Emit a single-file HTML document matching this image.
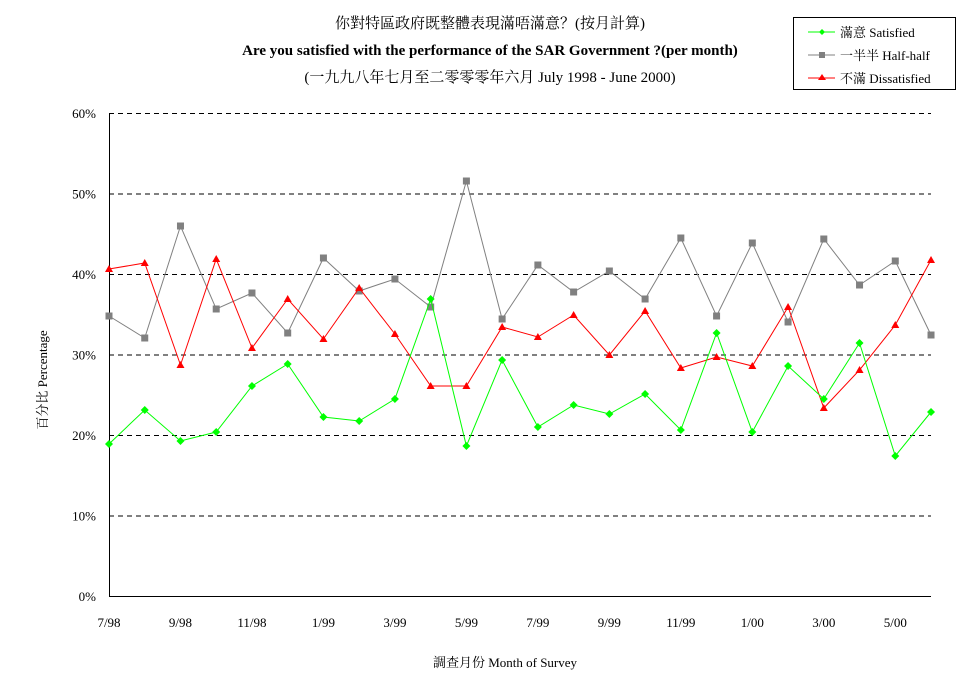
<!DOCTYPE html>
<html><head><meta charset="utf-8"><style>
body{margin:0;background:#fff;}
svg text{font-family:"Liberation Serif","Noto Serif CJK SC","Noto Sans CJK TC",serif;}
</style></head><body>
<svg id="s" width="977" height="681" xmlns="http://www.w3.org/2000/svg">
<rect width="977" height="681" fill="#fff"/>
<text x="490" y="28" font-size="15" text-anchor="middle">你對特區政府既整體表現滿唔滿意？(按月計算)</text>
<text x="490" y="55" font-size="15" font-weight="bold" text-anchor="middle">Are you satisfied with the performance of the SAR Government ?(per month)</text>
<text x="490" y="82" font-size="15" text-anchor="middle">(一九九八年七月至二零零零年六月 July 1998 - June 2000)</text>
<rect x="793.5" y="17.5" width="162" height="72" fill="#fff" stroke="#000"/>
<line x1="808" y1="32" x2="835" y2="32" stroke="#00ff00"/><path d="M822 29 L825 32 L822 35 L819 32Z" fill="#00ff00"/>
<text x="840" y="37" font-size="13">滿意 Satisfied</text>
<line x1="808" y1="55" x2="835" y2="55" stroke="#808080"/><rect x="819" y="52" width="6" height="6" fill="#808080"/>
<text x="840" y="60" font-size="13">一半半 Half-half</text>
<line x1="808" y1="78" x2="835" y2="78" stroke="#ff0000"/><path d="M822 74 L826 80 L818 80Z" fill="#ff0000"/>
<text x="840" y="83" font-size="13">不滿 Dissatisfied</text>
<g id="grid"></g>
<line x1="109.5" y1="113" x2="109.5" y2="596" stroke="#000"/>
<line x1="109" y1="596.5" x2="931" y2="596.5" stroke="#000"/>
<text transform="translate(47,380) rotate(-90)" font-size="13" text-anchor="middle">百分比 Percentage</text>
<text x="505" y="667" font-size="13" text-anchor="middle">調查月份 Month of Survey</text>
<g id="d"></g>
</svg>
<script>
var g=document.getElementById('grid'),d=document.getElementById('d'),h='';
for(var i=0;i<=6;i++){var y=596-i*80.5;
 if(i>0)h+='<line x1="109" y1="'+(y+.5)+'" x2="931" y2="'+(y+.5)+'" stroke="#000" stroke-dasharray="5,4"/>';
 h+='<text x="96" y="'+(y+5)+'" font-size="13" text-anchor="end">'+(i*10)+'%</text>';}
var labs=['7/98','9/98','11/98','1/99','3/99','5/99','7/99','9/99','11/99','1/00','3/00','5/00'];
for(var i=0;i<12;i++)h+='<text x="'+(109+i*2*35.74)+'" y="627" font-size="13" text-anchor="middle">'+labs[i]+'</text>';
g.innerHTML=h;
var S=[444,410,441,432,386,364,417,421,399,299,446,360,427,405,414,394,430,333,432,366,399,343,456,412];
var H=[316,338,226,309,293,333,258,291,279,307,181,319,265,292,271,299,238,316,243,322,239,285,261,335];
var D=[269,263,365,259,348,299,339,288,334,386,386,327,337,315,355,311,368,357,366,307,408,370,325,260];
function ser(a,c,m){var p=a.map(function(y,i){return (109+i*35.74).toFixed(1)+','+y}).join(' ');
 var s='<polyline points="'+p+'" fill="none" stroke="'+c+'" stroke-width="1"/>';
 a.forEach(function(y,i){var x=109+i*35.74;
  if(m==0)s+='<path d="M'+x+' '+(y-4)+' L'+(x+4)+' '+y+' L'+x+' '+(y+4)+' L'+(x-4)+' '+y+'Z" fill="'+c+'"/>';
  else if(m==1)s+='<rect x="'+(x-3.5)+'" y="'+(y-3.5)+'" width="7" height="7" fill="'+c+'"/>';
  else s+='<path d="M'+x+' '+(y-4)+' L'+(x+4)+' '+(y+3)+' L'+(x-4)+' '+(y+3)+'Z" fill="'+c+'"/>';});
 return s;}
d.innerHTML=ser(H,'#808080',1)+ser(D,'#ff0000',2)+ser(S,'#00ff00',0);
</script>
</body></html>
